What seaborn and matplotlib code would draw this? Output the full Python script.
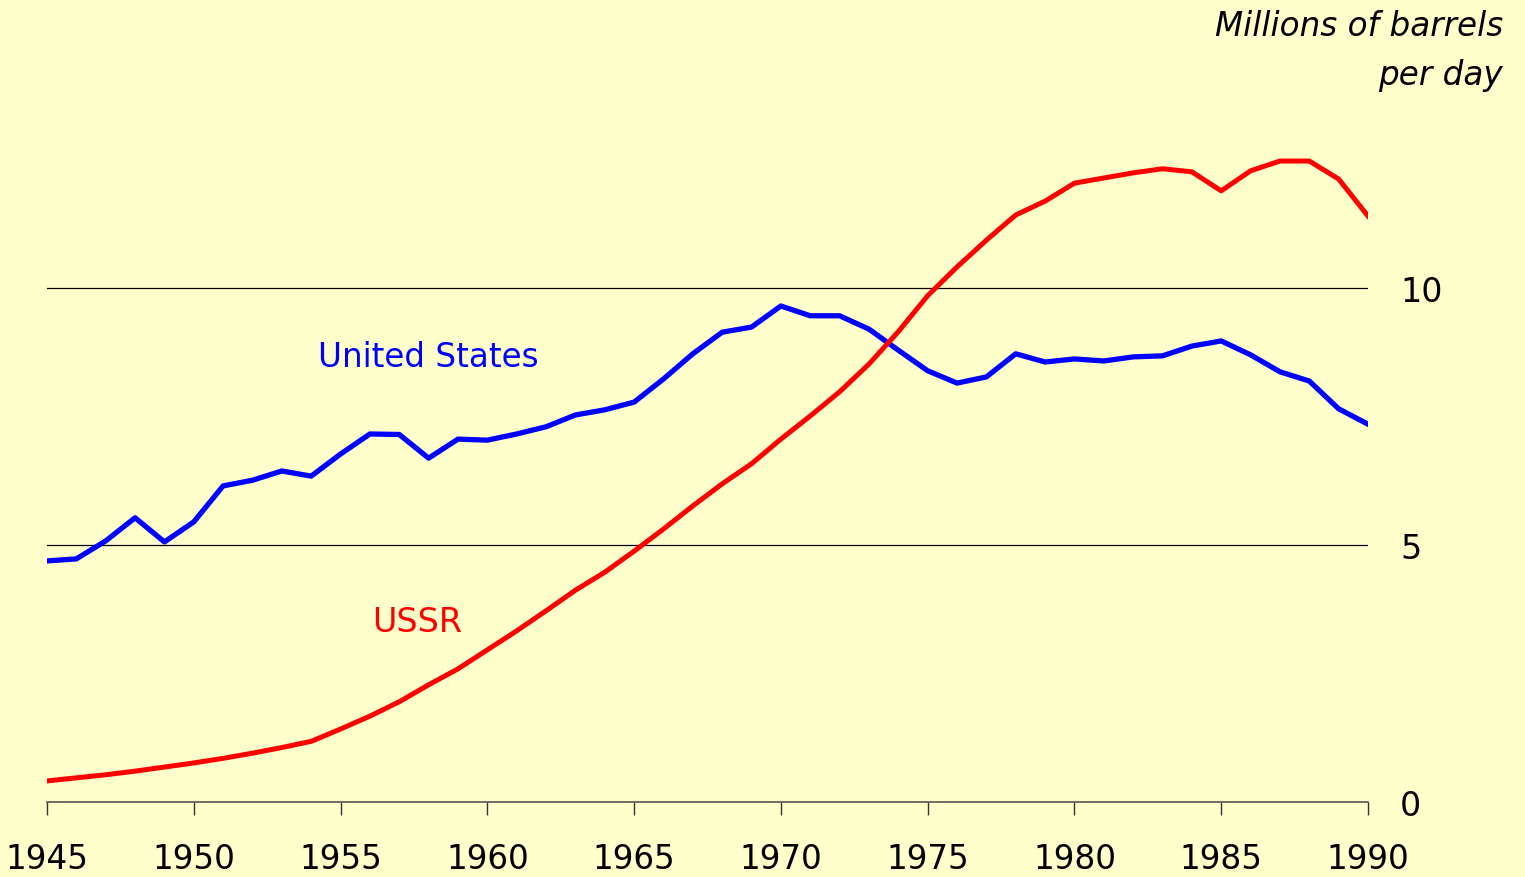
import matplotlib
matplotlib.use("Agg")
import matplotlib.pyplot as plt
import seaborn as sns
import pandas as pd

years = list(range(1945, 1991))

# millions of barrels per day
us_output = [4.69, 4.73, 5.08, 5.53, 5.06, 5.45, 6.15, 6.26, 6.44, 6.34,
             6.77, 7.16, 7.15, 6.69, 7.06, 7.04, 7.16, 7.30, 7.53, 7.63,
             7.78, 8.23, 8.72, 9.14, 9.24, 9.65, 9.46, 9.46, 9.20, 8.79,
             8.39, 8.15, 8.27, 8.72, 8.56, 8.62, 8.58, 8.66, 8.68, 8.87,
             8.97, 8.70, 8.37, 8.19, 7.65, 7.35]
ussr_output = [0.41, 0.47, 0.53, 0.60, 0.68, 0.76, 0.85, 0.95, 1.06, 1.18,
               1.42, 1.67, 1.95, 2.28, 2.59, 2.96, 3.33, 3.72, 4.12, 4.47,
               4.88, 5.31, 5.76, 6.19, 6.58, 7.06, 7.51, 7.98, 8.52, 9.15,
               9.85, 10.41, 10.93, 11.42, 11.69, 12.04, 12.14, 12.24, 12.32, 12.26,
               11.89, 12.28, 12.47, 12.47, 12.12, 11.40]

x_ticks = [1945, 1950, 1955, 1960, 1965, 1970, 1975, 1980, 1985, 1990]
y_ticks = [0, 5, 10]

df = pd.DataFrame({"year": years, "United States": us_output, "USSR": ussr_output})

bg = "#FFFFCC"
plt.rcParams["font.family"] = ["DejaVu Sans"]

fig = plt.figure(figsize=(15.25, 8.78), dpi=100, facecolor=bg)
ax = fig.add_axes([47 / 1525, 75 / 878, 1321 / 1525, 771 / 878], facecolor=bg)

for y in [5, 10]:
    ax.axhline(y, color="black", lw=0.9, zorder=1)

sns.lineplot(data=df, x="year", y="United States", color="#0000FF", lw=3.8, ax=ax,
             zorder=3, solid_joinstyle="round")
sns.lineplot(data=df, x="year", y="USSR", color="#FF0000", lw=3.6, ax=ax, zorder=3)

ax.set_xlim(1945, 1990)
ax.set_ylim(0, 15)
ax.set_xlabel("")
ax.set_ylabel("")

for s in ["top", "left", "right"]:
    ax.spines[s].set_visible(False)
ax.spines["bottom"].set_color("#555555")
ax.spines["bottom"].set_linewidth(1.2)

ax.set_xticks(x_ticks)
ax.tick_params(axis="x", direction="out", length=9, width=1, color="#333333",
               labelsize=23.5, pad=20)
ax.yaxis.tick_right()
ax.set_yticks(y_ticks)
ax.tick_params(axis="y", length=0, labelsize=24, pad=23)
for lab in ax.get_yticklabels():
    lab.set_horizontalalignment("left")

ax.text(1954.23, 8.66, "United States", color="#0000FF", fontsize=23.5,
        ha="left", va="center")
ax.text(1956.07, 3.52, "USSR", color="#FF0000", fontsize=24,
        ha="left", va="center")

fig.text(1503 / 1525, 1 - 10 / 878, "Millions of barrels\nper day", ha="right", va="top",
         fontsize=23.5, style="italic", linespacing=1.6)

fig.savefig("out.png", dpi=100, facecolor=bg)
